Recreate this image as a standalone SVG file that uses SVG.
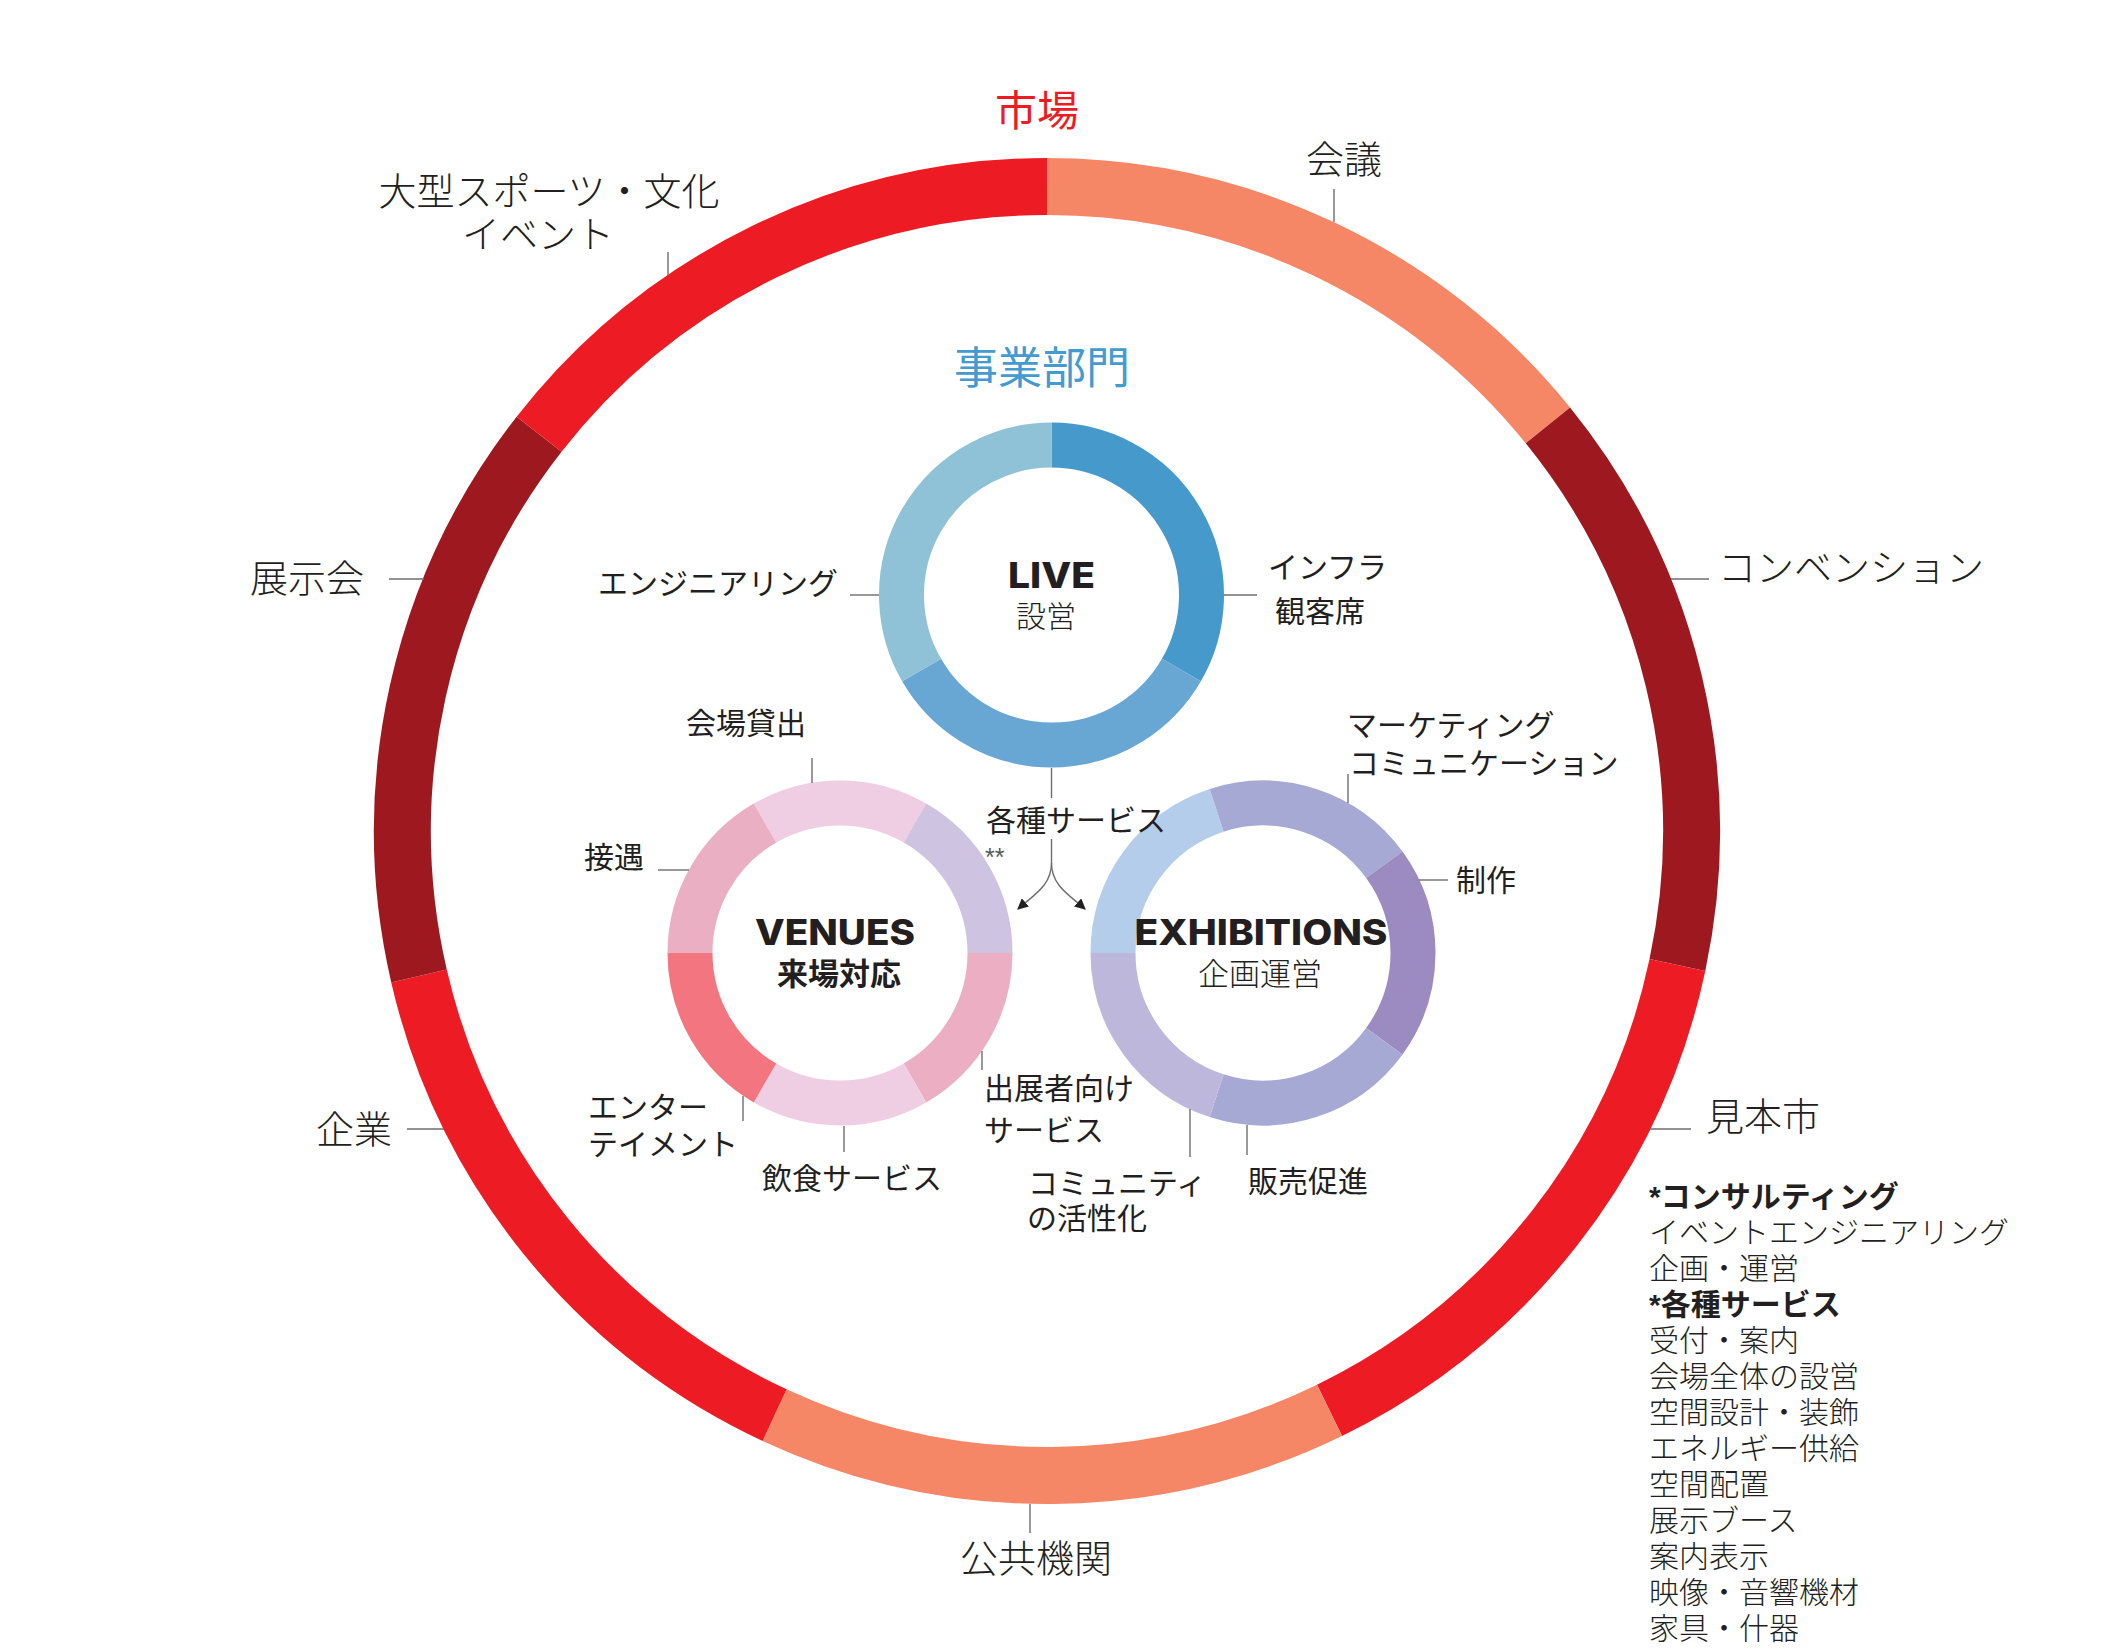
<svg xmlns="http://www.w3.org/2000/svg" width="2111" height="1651" viewBox="0 0 2111 1651">
<style>
.jp{font-family:'Liberation Sans','Noto Sans CJK JP','Noto Sans CJK SC',sans-serif;fill:#231F20}
.out{font-size:38px;font-weight:300}
.lab{font-size:30px;font-weight:400}
.lst{font-size:30px;font-weight:300}
.b{font-weight:700}
.en{font-family:Inter,'Noto Sans',sans-serif;font-weight:800;font-size:35px;fill:#231F20}
.ld{stroke:#6d6e71;stroke-width:1.4;fill:none}
.big{fill:none;stroke-width:57}
.sm{fill:none;stroke-width:45}
</style>
<defs>
<marker id="ah" viewBox="0 0 10 10" refX="9" refY="5" markerWidth="11" markerHeight="11" markerUnits="userSpaceOnUse" orient="auto">
<path d="M0,0 L10,5 L0,10 Z" fill="#231F20"/>
</marker>
</defs>
<rect width="2111" height="1651" fill="#fff"/>

<g id="market-ring">
<path class="big" stroke="#F58766" d="M1047,186.5 A644.5,644.5 0 0 1 1547.9,425.4"/>
<path class="big" stroke="#9E1820" d="M1547.9,425.4 A644.5,644.5 0 0 1 1677.4,965"/>
<path class="big" stroke="#ED1C24" d="M1677.4,965 A644.5,644.5 0 0 1 1329.5,1410.3"/>
<path class="big" stroke="#F58766" d="M1329.5,1410.3 A644.5,644.5 0 0 1 774.6,1415.1"/>
<path class="big" stroke="#ED1C24" d="M774.6,1415.1 A644.5,644.5 0 0 1 419,976"/>
<path class="big" stroke="#9E1820" d="M419,976 A644.5,644.5 0 0 1 539.1,434.2"/>
<path class="big" stroke="#ED1C24" d="M539.1,434.2 A644.5,644.5 0 0 1 1047,186.5"/>
<text class="jp" x="1037" y="126" font-size="42" text-anchor="middle" style="fill:#ED1C24">市場</text>
</g>

<g id="markets">
<text class="jp out" x="1306" y="173">会議</text>
<text class="jp out" x="549" y="205" text-anchor="middle">大型スポーツ・文化</text>
<text class="jp out" x="538" y="248" text-anchor="middle">イベント</text>
<text class="jp out" x="250" y="592">展示会</text>
<text class="jp out" x="1718" y="581">コンベンション</text>
<text class="jp out" x="316" y="1143">企業</text>
<text class="jp out" x="1706" y="1130">見本市</text>
<text class="jp out" x="1036" y="1572" text-anchor="middle">公共機関</text>
</g>

<g id="divisions-title">
<text class="jp" x="1042" y="384" font-size="44" text-anchor="middle" style="fill:#439BD0">事業部門</text>
</g>

<g id="live">
<path class="sm" stroke="#4699CB" d="M1051.5,445 A150,150 0 0 1 1181.4,670"/>
<path class="sm" stroke="#68A7D3" d="M1181.4,670 A150,150 0 0 1 921.6,670"/>
<path class="sm" stroke="#90C2D7" d="M921.6,670 A150,150 0 0 1 1051.5,445"/>
<text class="en" x="1051.5" y="588" text-anchor="middle" textLength="87" lengthAdjust="spacingAndGlyphs">LIVE</text>
<text class="jp" x="1046" y="627" font-size="30" font-weight="300" text-anchor="middle">設営</text>
<text class="jp lab" x="838" y="594" text-anchor="end">エンジニアリング</text>
<text class="jp lab" x="1268" y="578">インフラ</text>
<text class="jp lab" x="1275" y="622">観客席</text>
</g>

<g id="venues">
<path class="sm" stroke="#EFCDE3" d="M765,823.1 A150,150 0 0 1 915,823.1"/>
<path class="sm" stroke="#CEC3E1" d="M915,823.1 A150,150 0 0 1 990,953"/>
<path class="sm" stroke="#EBAEC2" d="M990,953 A150,150 0 0 1 915,1082.9"/>
<path class="sm" stroke="#EFCDE3" d="M915,1082.9 A150,150 0 0 1 765,1082.9"/>
<path class="sm" stroke="#F3757F" d="M765,1082.9 A150,150 0 0 1 690,953"/>
<path class="sm" stroke="#EAAFC3" d="M690,953 A150,150 0 0 1 765,823.1"/>
<text class="en" x="835" y="945" text-anchor="middle" textLength="160" lengthAdjust="spacingAndGlyphs">VENUES</text>
<text class="jp b" x="839" y="985" font-size="31" text-anchor="middle">来場対応</text>
<text class="jp lab" x="686" y="734">会場貸出</text>
<text class="jp lab" x="584" y="868">接遇</text>
<text class="jp lab" x="588" y="1118">エンター</text>
<text class="jp lab" x="588" y="1155">テイメント</text>
<text class="jp lab" x="762" y="1189">飲食サービス</text>
<text class="jp lab" x="984" y="1099">出展者向け</text>
<text class="jp lab" x="984" y="1141">サービス</text>
</g>

<g id="exhibitions">
<path class="sm" stroke="#B3CDEA" d="M1113,953 A150,150 0 0 1 1216.65,810.34"/>
<path class="sm" stroke="#A7A9D5" d="M1216.65,810.34 A150,150 0 0 1 1384.35,864.83"/>
<path class="sm" stroke="#9B8BC1" d="M1384.35,864.83 A150,150 0 0 1 1384.35,1041.17"/>
<path class="sm" stroke="#A7A9D5" d="M1384.35,1041.17 A150,150 0 0 1 1216.65,1095.66"/>
<path class="sm" stroke="#BDB7DB" d="M1216.65,1095.66 A150,150 0 0 1 1113,953"/>
<text class="en" x="1261" y="945" text-anchor="middle" textLength="253" lengthAdjust="spacingAndGlyphs">EXHIBITIONS</text>
<text class="jp" x="1260" y="985" font-size="31" font-weight="300" text-anchor="middle">企画運営</text>
<text class="jp lab" x="1347" y="736">マーケティング</text>
<text class="jp lab" x="1349" y="774">コミュニケーション</text>
<text class="jp lab" x="1456" y="891">制作</text>
<text class="jp lab" x="1248" y="1192">販売促進</text>
<text class="jp lab" x="1028" y="1194">コミュニティ</text>
<text class="jp lab" x="1027" y="1229">の活性化</text>
</g>

<g id="services">
<text class="jp lab" x="986" y="831">各種サービス</text>
<text x="985" y="866" font-family="'Liberation Sans',sans-serif" font-size="25" fill="#58595b">**</text>
</g>

<g id="connectors">
<line class="ld" x1="1334" y1="189" x2="1334" y2="222"/>
<line class="ld" x1="668" y1="252" x2="668" y2="275"/>
<line class="ld" x1="389" y1="579" x2="424" y2="579"/>
<line class="ld" x1="1671" y1="579" x2="1709" y2="579"/>
<line class="ld" x1="407" y1="1129" x2="444" y2="1129"/>
<line class="ld" x1="1650" y1="1129" x2="1691" y2="1129"/>
<line class="ld" x1="1030" y1="1504" x2="1030" y2="1533"/>
<line class="ld" x1="850" y1="595" x2="879" y2="595"/>
<line class="ld" x1="1224" y1="595" x2="1257" y2="595"/>
<line class="ld" x1="812" y1="758" x2="812" y2="783"/>
<line class="ld" x1="658" y1="870" x2="689" y2="870"/>
<line class="ld" x1="743" y1="1096" x2="743" y2="1121"/>
<line class="ld" x1="844" y1="1126" x2="844" y2="1152"/>
<line class="ld" x1="982" y1="1051" x2="982" y2="1070"/>
<line class="ld" x1="1348" y1="774" x2="1348" y2="803"/>
<line class="ld" x1="1419" y1="880" x2="1448" y2="880"/>
<line class="ld" x1="1247" y1="1125" x2="1247" y2="1155"/>
<line class="ld" x1="1190" y1="1109" x2="1190" y2="1157"/>
<line class="ld" x1="1051.5" y1="768" x2="1051.5" y2="798"/>
<path class="ld" d="M1051.5,839 V863 C1051.5,885 1035,894 1018,909" stroke="#231F20" marker-end="url(#ah)"/>
<path class="ld" d="M1051.5,863 C1051.5,885 1068,894 1085,909" stroke="#231F20" marker-end="url(#ah)"/>
</g>

<g id="service-list">
<text class="jp lst b" x="1649" y="1207">*コンサルティング</text>
<text class="jp lst" x="1649" y="1243">イベントエンジニアリング</text>
<text class="jp lst" x="1649" y="1279">企画・運営</text>
<text class="jp lst b" x="1649" y="1315">*各種サービス</text>
<text class="jp lst" x="1649" y="1351">受付・案内</text>
<text class="jp lst" x="1649" y="1387">会場全体の設営</text>
<text class="jp lst" x="1649" y="1423">空間設計・装飾</text>
<text class="jp lst" x="1649" y="1459">エネルギー供給</text>
<text class="jp lst" x="1649" y="1495">空間配置</text>
<text class="jp lst" x="1649" y="1531">展示ブース</text>
<text class="jp lst" x="1649" y="1567">案内表示</text>
<text class="jp lst" x="1649" y="1603">映像・音響機材</text>
<text class="jp lst" x="1649" y="1639">家具・什器</text>
</g>
</svg>
